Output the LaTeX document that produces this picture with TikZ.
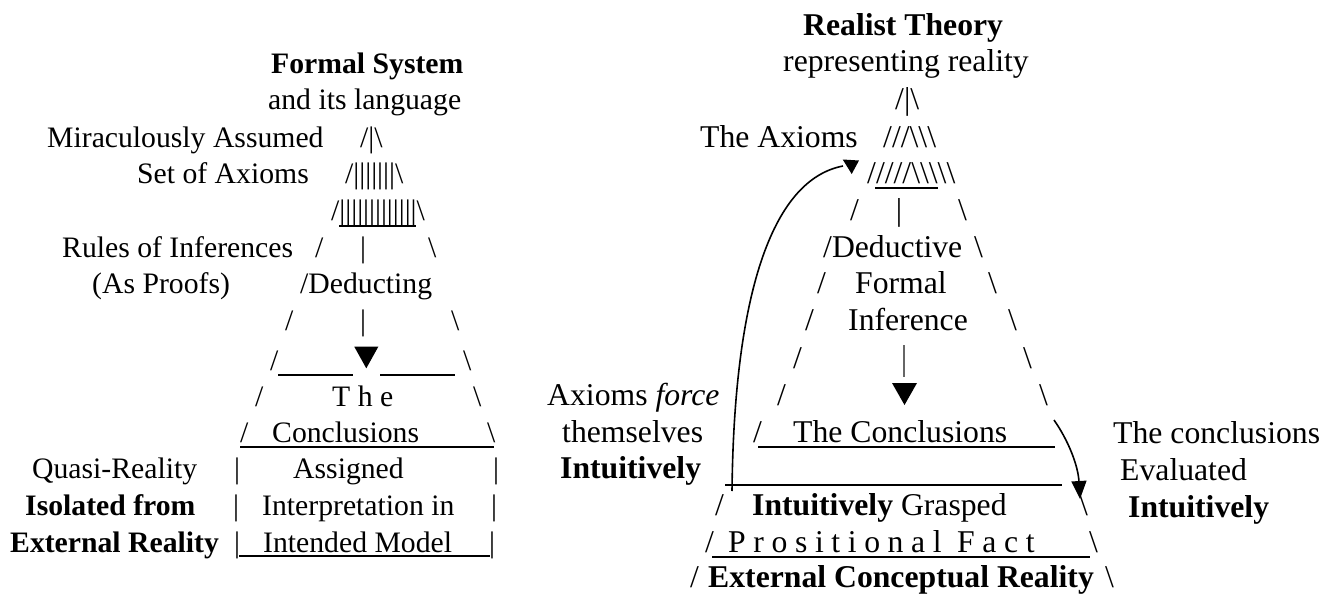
\documentclass[tikz,border=0pt]{standalone}
\usepackage{fontspec}
\setmainfont{Liberation Serif}
\usetikzlibrary{arrows.meta}
\newcommand\fsL{\fontsize{29.7}{36}\selectfont}
\newcommand\fsR{\fontsize{31.7}{38}\selectfont}
\newcommand\bsl{\textbackslash}
\tikzset{
  L/.style={inner sep=0pt, anchor=base west, font=\fsL},
  R/.style={inner sep=0pt, anchor=base west, font=\fsR},
  Lbar/.style={inner sep=0pt, anchor=base, font=\fsL},
  Rbar/.style={inner sep=0pt, anchor=base, font=\fsR},
  uline/.style={line width=1.5pt},
  conn/.style={line width=1.6pt},
}
\begin{document}
\begin{tikzpicture}[x=1pt,y=-1pt]
\path[use as bounding box] (0,0) rectangle (1336,594);
% ---------- left pyramid ----------
\node[L,font=\fsL\bfseries] (fs) at (271,74) {Formal System};
\node[L] (lang) at (268,109) {and its language};
\node[L] (mir) at (47,147) {Miraculously Assumed};
\node[L] (ax1) at (360,147) {/|\bsl};
\node[L] (soa) at (137,183) {Set of Axioms};
\node[L] (ax2) at (345,183) {/|||||||\bsl};
\node[L] (ax3) at (331,220) {/|||||||||||||\bsl};
\draw[uline] (339,226) -- (416,226);
\node[L] (rules) at (62,257) {Rules of Inferences};
\node[L] (s1l) at (315,257) {/};
\node[Lbar] (s1m) at (363,257) {|};
\node[L] (s1r) at (428,257) {\bsl};
\node[L] (asp) at (92,293) {(As Proofs)};
\node[L] (ded) at (300,293) {/Deducting};
\node[L] (s2l) at (285,330) {/};
\node[Lbar] (s2m) at (363,330) {|};
\node[L] (s2r) at (451,330) {\bsl};
\node[L] (s3l) at (270,370) {/};
\draw[uline] (278,375) -- (353,375);
\fill (354.3,346.7) -- (378.3,346.7) -- (366.3,368.3) -- cycle;
\draw[uline] (380,375) -- (455,375);
\node[L] (s3r) at (463,370) {\bsl};
\node[L] (s4l) at (255,406) {/};
\node[L] (the) at (332,406) {T h e};
\node[L] (s4r) at (473,406) {\bsl};
\node[L] (s5l) at (240,442) {/};
\node[L] (concl) at (272,442) {Conclusions};
\node[L] (s5r) at (487,442) {\bsl};
\draw[uline] (240,447) -- (494,447);
\node[L] (q) at (32,478) {Quasi-Reality};
\node[Lbar] (b1l) at (237,478) {|};
\node[L] (asg) at (293,478) {Assigned};
\node[Lbar] (b1r) at (496,478) {|};
\node[L,font=\fsL\bfseries] (iso) at (25,515) {Isolated from};
\node[Lbar] (b2l) at (236,515) {|};
\node[L] (interp) at (262,515) {Interpretation in};
\node[Lbar] (b2r) at (494,515) {|};
\node[L,font=\fsL\bfseries] (ext) at (10,552) {External Reality};
\node[Lbar] (b3l) at (237,552) {|};
\node[L] (imod) at (263,552) {Intended Model};
\node[Lbar] (b3r) at (492,552) {|};
\draw[uline] (239,556) -- (490,556);
% ---------- right pyramid ----------
\node[R,font=\fsR\bfseries] (rt) at (803,36) {Realist Theory};
\node[R] (rep) at (783,72) {representing reality};
\node[R] (rax1) at (895,110) {/|\bsl};
\node[R] (tax) at (700,147) {The Axioms};
\node[R] (rax2) at (883,147) {///\bsl\bsl\bsl};
\node[R] (rax3) at (867,183) {/////\bsl\bsl\bsl\bsl\bsl};
\draw[uline] (875,188) -- (938,188);
\node[R] (r1l) at (850,220) {/};
\node[Rbar] (r1m) at (899,220) {|};
\node[R] (r1r) at (958,220) {\bsl};
\node[R] (rded) at (823,257) {/Deductive};
\node[R] (r2r) at (974,257) {\bsl};
\node[R] (r3l) at (817,293) {/};
\node[R] (formal) at (855,293) {Formal};
\node[R] (r3r) at (988,293) {\bsl};
\node[R] (r4l) at (805,330) {/};
\node[R] (inf) at (848,330) {Inference};
\node[R] (r4r) at (1008,330) {\bsl};
\node[R] (r5l) at (793,368) {/};
\draw[line width=1.2pt, black!60] (904,345) -- (904,377);
\node[R] (r5r) at (1023,368) {\bsl};
\node[R] (axf) at (547,405) {Axioms \textit{force}};
\node[R] (r6l) at (777,405) {/};
\fill (892,383) -- (917,383) -- (904.5,405) -- cycle;
\node[R] (r6r) at (1039,405) {\bsl};
\node[R] (them) at (562,442) {themselves};
\node[R] (r7l) at (753,442) {/};
\node[R] (rconc) at (793,442) {The Conclusions};
\draw[uline] (758,447) -- (1055,447);
\node[R,font=\fsR\bfseries] (intu) at (560,478) {Intuitively};
\draw[uline] (725,485) -- (1062,485);
\node[R] (r8l) at (715,515) {/};
\node[R] (grasp) at (752,515) {\textbf{Intuitively} Grasped};
\node[R] (r8r) at (1079,515) {\bsl};
\node[R] (r9l) at (705,552) {/};
\node[R,font=\fsR\addfontfeature{LetterSpace=24}] (pf) at (728,552) {Prositional Fact};
\draw[uline] (712,557) -- (1090,557);
\node[R] (r9r) at (1089,552) {\bsl};
\node[R] (r10l) at (690,587) {/};
\node[R,font=\fsR\bfseries] (ecr) at (708,587) {External Conceptual Reality};
\node[R] (r10r) at (1105,587) {\bsl};
\node[R] (tc) at (1113,443) {The conclusions};
\node[R] (ev) at (1120,480) {Evaluated};
\node[R,font=\fsR\bfseries] (int2) at (1128,517) {Intuitively};
% ---------- curved connectors ----------
\coordinate (ls) at (732,491);
\coordinate (le) at (843,166);
\draw[conn] (ls) .. controls (734,300) and (770,180) .. (le);
\fill (842.7,159.5) -- (859,160.5) -- (851.7,174) -- cycle;
\coordinate (rs) at (1054,420);
\coordinate (re) at (1080,499);
\draw[conn,-{Triangle[length=18pt,width=15pt]}] (rs) .. controls (1068,440) and (1078,465) .. (re);
\end{tikzpicture}
\end{document}
